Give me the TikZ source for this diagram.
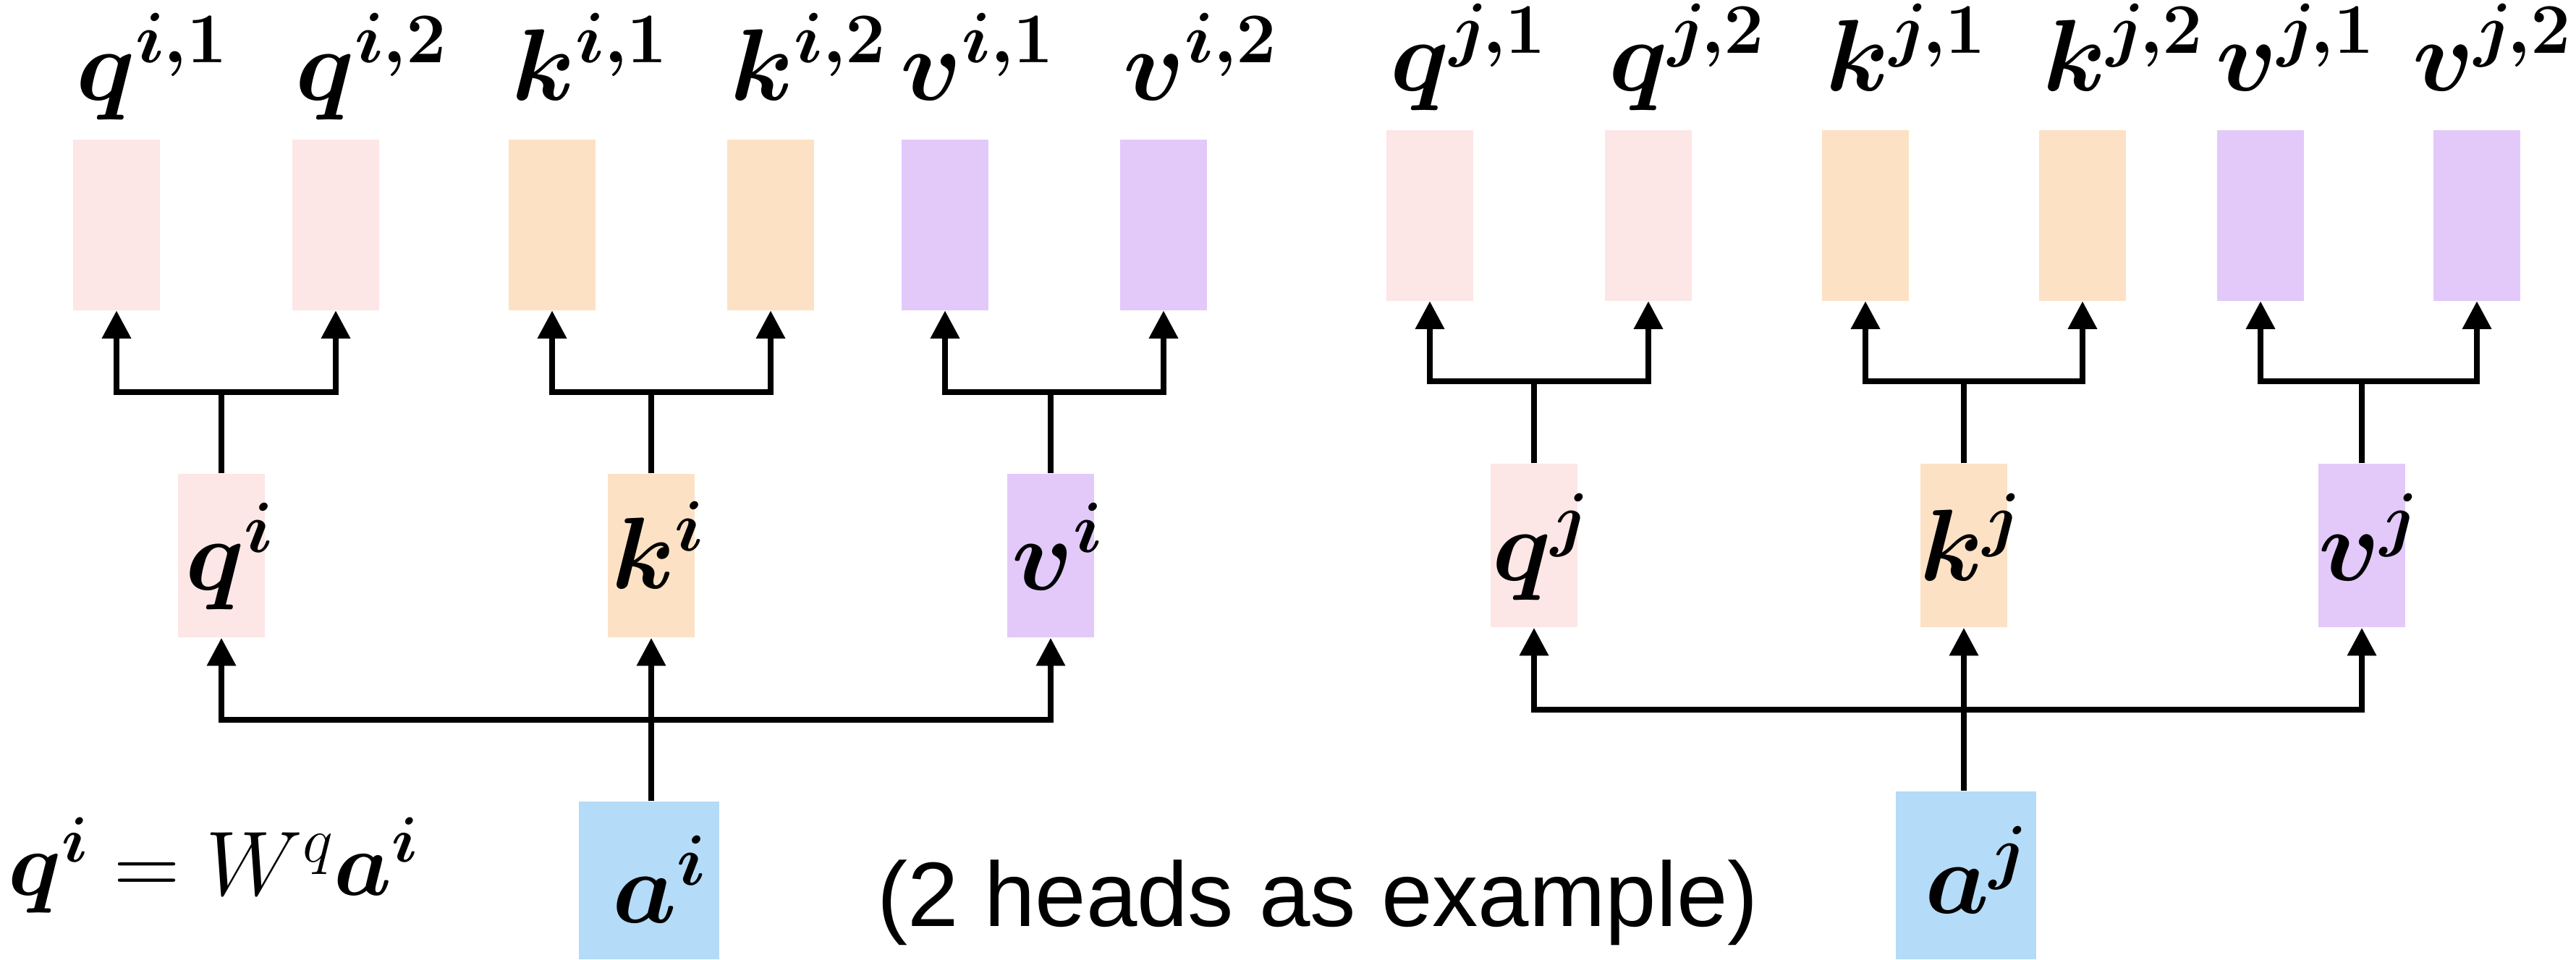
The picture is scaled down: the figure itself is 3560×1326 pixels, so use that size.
\RequirePackage{fix-cm}
\documentclass[tikz,border=0pt]{standalone}
\usepackage{fontspec}
\usepackage{amsmath}
\usepackage{bm}
\newfontfamily\arialfont{Liberation Sans}
\usetikzlibrary{arrows.meta}
\definecolor{qcol}{RGB}{253,230,230}
\definecolor{kcol}{RGB}{253,225,197}
\definecolor{vcol}{RGB}{226,201,250}
\definecolor{acol}{RGB}{180,219,248}
\begin{document}
\begin{tikzpicture}[x=0.01cm,y=-0.01cm,
  box/.style={inner sep=0pt, minimum width=1.2cm},
  topbox/.style={box, minimum height=2.35cm},
  midbox/.style={box, minimum height=2.26cm},
  inbox/.style={inner sep=0pt, minimum width=1.94cm, fill=acol},
  lab/.style={inner sep=0pt, font=\fontsize{40}{48}\selectfont},
  wire/.style={line width=2.3pt},
  arr/.style={wire, -{Triangle[length=11pt,width=11pt]}}]
\useasboundingbox (0,0) rectangle (3560,1326);
% ---------- left group: top boxes ----------
\node[topbox, fill=qcol] (qi1) at (161,311) {};
\node[topbox, fill=qcol] (qi2) at (464,311) {};
\node[topbox, fill=kcol] (ki1) at (763,311) {};
\node[topbox, fill=kcol] (ki2) at (1065,311) {};
\node[topbox, fill=vcol] (vi1) at (1306,311) {};
\node[topbox, fill=vcol] (vi2) at (1608,311) {};
\node[lab, anchor=base west] (lqi1) at (105,138) {$\bm{q^{i,1}}$};
\node[lab, anchor=base west] (lqi2) at (408,138) {$\bm{q^{i,2}}$};
\node[lab, anchor=base west] (lki1) at (707,138) {$\bm{k^{i,1}}$};
\node[lab, anchor=base west] (lki2) at (1009,138) {$\bm{k^{i,2}}$};
\node[lab, anchor=base west] (lvi1) at (1244,138) {$\bm{v^{i,1}}$};
\node[lab, anchor=base west] (lvi2) at (1552,138) {$\bm{v^{i,2}}$};
% ---------- right group: top boxes ----------
\node[topbox, fill=qcol] (qj1) at (1976,298) {};
\node[topbox, fill=qcol] (qj2) at (2278,298) {};
\node[topbox, fill=kcol] (kj1) at (2578,298) {};
\node[topbox, fill=kcol] (kj2) at (2878,298) {};
\node[topbox, fill=vcol] (vj1) at (3124,298) {};
\node[topbox, fill=vcol] (vj2) at (3423,298) {};
\node[lab, anchor=base west] (lqj1) at (1921,125) {$\bm{q^{j,1}}$};
\node[lab, anchor=base west] (lqj2) at (2223,125) {$\bm{q^{j,2}}$};
\node[lab, anchor=base west] (lkj1) at (2523,125) {$\bm{k^{j,1}}$};
\node[lab, anchor=base west] (lkj2) at (2823,125) {$\bm{k^{j,2}}$};
\node[lab, anchor=base west] (lvj1) at (3062,125) {$\bm{v^{j,1}}$};
\node[lab, anchor=base west] (lvj2) at (3334,125) {$\bm{v^{j,2}}$};
% ---------- middle boxes ----------
\node[midbox, fill=qcol] (qi) at (306,768) {};
\node[midbox, fill=kcol] (ki) at (900,768) {};
\node[midbox, fill=vcol] (vi) at (1452,768) {};
\node[midbox, fill=qcol] (qj) at (2120,754) {};
\node[midbox, fill=kcol] (kj) at (2714,754) {};
\node[midbox, fill=vcol] (vj) at (3264,754) {};
\node[lab, anchor=base] (lqi) at (318,815) {$\bm{q^{i}}$};
\node[lab, anchor=base] (lki) at (910,813) {$\bm{k^{i}}$};
\node[lab, anchor=base] (lvi) at (1462,815) {$\bm{v^{i}}$};
\node[lab, anchor=base] (lqj) at (2130,802) {$\bm{q^{j}}$};
\node[lab, anchor=base] (lkj) at (2724,802) {$\bm{k^{j}}$};
\node[lab, anchor=base] (lvj) at (3274,802) {$\bm{v^{j}}$};
% ---------- inputs ----------
\node[inbox, minimum height=2.18cm] (ai) at (897,1217) {};
\node[inbox, minimum height=2.32cm] (aj) at (2717,1210) {};
\node[lab, anchor=base] (lai) at (912,1275) {$\bm{a^{i}}$};
\node[lab, anchor=base] (laj) at (2732,1262) {$\bm{a^{j}}$};
% ---------- texts ----------
\node[inner sep=0pt, anchor=base west, font=\fontsize{36}{43}\selectfont] (eq) at (11,1237) {$\bm{q}^{\bm{i}} = W^{q}\bm{a}^{\bm{i}}$};
\node[inner sep=0pt, anchor=base west, font=\arialfont\fontsize{36}{43}\selectfont] (note) at (1212,1280) {(2 heads as example)};
% ---------- connectors: left ----------
\coordinate (bi) at (900,995);
\draw[arr] (ki.south |- ai.north) -- (ki.south);
\draw[arr] (bi) -| (qi.south);
\draw[arr] (bi) -| (vi.south);
\coordinate (tqi) at (306,542);
\coordinate (tki) at (900,542);
\coordinate (tvi) at (1452,542);
\draw[wire] (qi.north) -- (tqi);
\draw[arr] (tqi) -| (qi1.south);
\draw[arr] (tqi) -| (qi2.south);
\draw[wire] (ki.north) -- (tki);
\draw[arr] (tki) -| (ki1.south);
\draw[arr] (tki) -| (ki2.south);
\draw[wire] (vi.north) -- (tvi);
\draw[arr] (tvi) -| (vi1.south);
\draw[arr] (tvi) -| (vi2.south);
% ---------- connectors: right ----------
\coordinate (bj) at (2714,981);
\draw[arr] (kj.south |- aj.north) -- (kj.south);
\draw[arr] (bj) -| (qj.south);
\draw[arr] (bj) -| (vj.south);
\coordinate (tqj) at (2120,527);
\coordinate (tkj) at (2714,527);
\coordinate (tvj) at (3264,527);
\draw[wire] (qj.north) -- (tqj);
\draw[arr] (tqj) -| (qj1.south);
\draw[arr] (tqj) -| (qj2.south);
\draw[wire] (kj.north) -- (tkj);
\draw[arr] (tkj) -| (kj1.south);
\draw[arr] (tkj) -| (kj2.south);
\draw[wire] (vj.north) -- (tvj);
\draw[arr] (tvj) -| (vj1.south);
\draw[arr] (tvj) -| (vj2.south);
\end{tikzpicture}
\end{document}
